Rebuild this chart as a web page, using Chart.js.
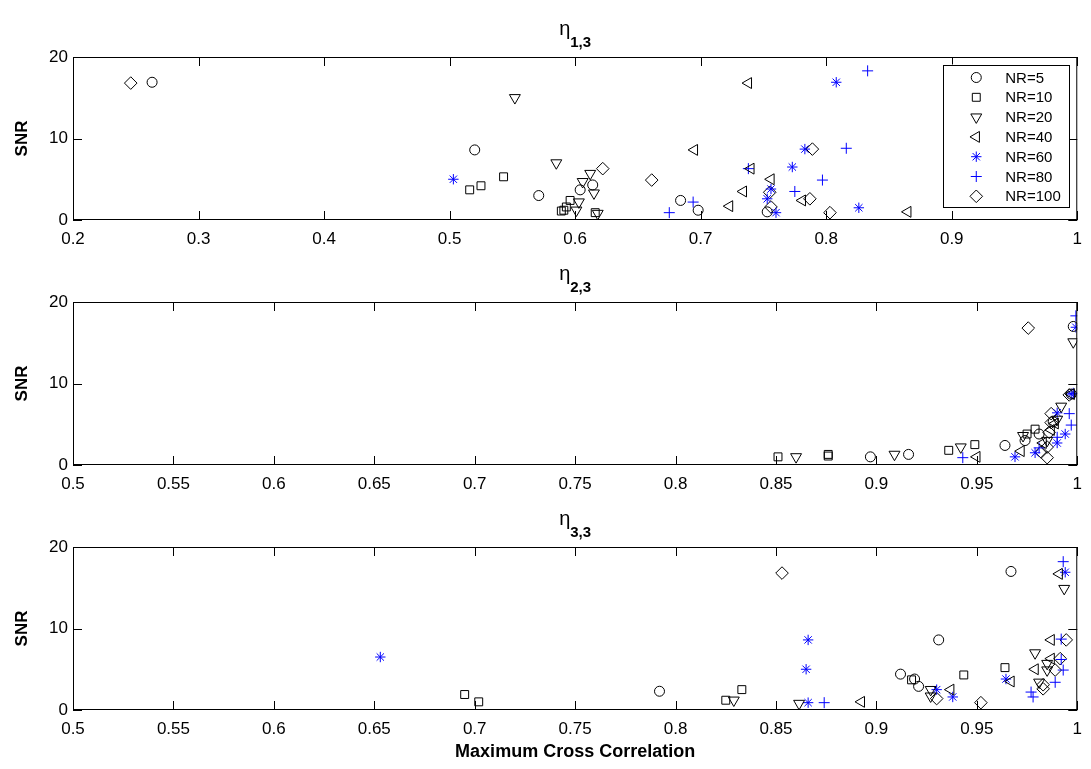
<!DOCTYPE html>
<html>
<head>
<meta charset="utf-8">
<script src="https://cdn.jsdelivr.net/npm/chart.js@4.4.1/dist/chart.umd.min.js"></script>
<style>
  body { margin: 0; background: #fff; }
  .panel { position: absolute; left: 0; width: 1091px; }
</style>
</head>
<body>
<div class="panel" style="top:0px;height:255px"><canvas id="c1" width="1091" height="255"></canvas></div>
<div class="panel" style="top:255px;height:245px"><canvas id="c2" width="1091" height="245"></canvas></div>
<div class="panel" style="top:500px;height:269px"><canvas id="c3" width="1091" height="269"></canvas></div>
<script>
// series names and marker look (MATLAB style)
const seriesLabels = ['NR=5', 'NR=10', 'NR=20', 'NR=40', 'NR=60', 'NR=80', 'NR=100'];
const markerStyles = ['circle', 'rect', 'triangle', 'triangle', 'star', 'cross', 'rectRot'];
const markerRotations = [0, 0, 180, -90, 0, 0, 0];
const markerSizes = [5, 5.6, 6.3, 6.3, 5.2, 5.5, 6.3];
const markerColors = ['#000', '#000', '#000', '#000', '#0000ff', '#0000ff', '#000'];

// eta 1,3 : [max cross correlation, SNR]
const eta13NR5   = [[0.263,16.9],[0.520,8.6],[0.604,3.7],[0.614,4.3],[0.571,3.0],[0.684,2.4],[0.698,1.2],[0.753,1.0]];
const eta13NR10  = [[0.543,5.3],[0.525,4.2],[0.516,3.7],[0.596,2.4],[0.593,1.6],[0.591,1.2],[0.589,1.1],[0.616,0.9]];
const eta13NR20  = [[0.552,15.0],[0.585,7.0],[0.612,5.7],[0.606,4.7],[0.615,3.3],[0.603,2.2],[0.601,1.2],[0.618,0.8]];
const eta13NR40  = [[0.738,16.8],[0.695,8.6],[0.740,6.3],[0.756,5.0],[0.734,3.5],[0.781,2.4],[0.723,1.7],[0.865,1.0]];
const eta13NR60  = [[0.808,16.9],[0.783,8.7],[0.773,6.5],[0.503,5.0],[0.756,3.8],[0.753,2.6],[0.826,1.5],[0.760,0.9]];
const eta13NR80  = [[0.833,18.3],[0.816,8.8],[0.738,6.3],[0.797,4.9],[0.775,3.5],[0.694,2.2],[0.675,0.9]];
const eta13NR100 = [[0.246,16.8],[0.789,8.7],[0.622,6.3],[0.661,4.9],[0.755,3.4],[0.787,2.6],[0.756,1.6],[0.803,0.9]];

// eta 2,3
const eta23NR5   = [[0.998,17.0],[0.997,8.7],[0.988,5.3],[0.981,3.8],[0.974,3.0],[0.964,2.4],[0.916,1.3],[0.897,1.0]];
const eta23NR10  = [[0.979,4.4],[0.975,3.8],[0.949,2.5],[0.936,1.8],[0.876,1.3],[0.876,1.1],[0.851,1.0]];
const eta23NR20  = [[0.998,15.1],[0.992,7.2],[0.990,5.6],[0.985,3.0],[0.973,3.6],[0.942,2.2],[0.909,1.3],[0.860,1.0]];
const eta23NR40  = [[0.997,8.7],[0.989,5.1],[0.987,4.3],[0.983,2.7],[0.972,1.7],[0.950,1.0]];
const eta23NR60  = [[0.9993,16.9],[0.997,8.7],[0.990,6.4],[0.994,3.8],[0.990,2.7],[0.979,1.5],[0.969,1.0]];
const eta23NR80  = [[0.9993,18.3],[0.998,8.8],[0.996,6.3],[0.997,4.9],[0.990,3.4],[0.981,2.1],[0.943,0.9]];
const eta23NR100 = [[0.9756,16.8],[0.996,8.6],[0.987,6.3],[0.987,5.2],[0.986,4.0],[0.985,2.2],[0.982,1.6],[0.985,0.9]];

// eta 3,3
const eta33NR5   = [[0.967,17.0],[0.931,8.6],[0.912,4.4],[0.919,3.8],[0.921,2.9],[0.792,2.3]];
const eta33NR10  = [[0.964,5.2],[0.9435,4.3],[0.9175,3.7],[0.833,2.5],[0.695,1.9],[0.825,1.2],[0.702,1.0]];
const eta33NR20  = [[0.9935,14.9],[0.979,7.0],[0.985,5.7],[0.985,4.9],[0.981,3.4],[0.927,2.5],[0.927,1.7],[0.829,1.2],[0.8615,0.8]];
const eta33NR40  = [[0.991,16.7],[0.987,8.6],[0.987,6.3],[0.979,5.0],[0.967,3.5],[0.937,2.5],[0.8925,1.0]];
const eta33NR60  = [[0.994,16.9],[0.866,8.6],[0.653,6.5],[0.865,5.0],[0.9645,3.8],[0.930,2.5],[0.938,1.6],[0.866,0.9]];
const eta33NR80  = [[0.993,18.2],[0.992,8.7],[0.992,6.2],[0.993,4.9],[0.989,3.4],[0.977,2.2],[0.978,1.6],[0.874,0.9]];
const eta33NR100 = [[0.853,16.8],[0.9945,8.6],[0.9915,6.3],[0.989,4.9],[0.983,3.1],[0.983,2.6],[0.930,1.4],[0.952,0.9]];

const FONT = '"Liberation Sans", Arial, sans-serif';

function makeDatasets(panel) {
    return panel.map((pts, i) => ({
        label: seriesLabels[i],
        data: pts.map(p => ({ x: p[0], y: p[1] })),
        showLine: false,
        pointStyle: markerStyles[i],
        pointRotation: markerRotations[i],
        pointRadius: markerSizes[i],
        pointBorderWidth: 1,
        pointBorderColor: markerColors[i],
        pointBackgroundColor: 'rgba(0,0,0,0)'
    }));
}

// box, inward ticks, eta title and legend box like the MATLAB figure
const framePlugin = {
    id: 'frame',
    afterDraw(chart, args, opts) {
        const { ctx, chartArea: a, scales } = chart;
        ctx.save();
        ctx.strokeStyle = '#000';
        ctx.lineWidth = 1;
        ctx.strokeRect(a.left + 0.5, a.top + 0.5, a.width - 1, a.height - 1);
        const tl = 9;
        ctx.beginPath();
        scales.x.ticks.forEach(t => {
            const px = Math.round(scales.x.getPixelForValue(t.value)) + 0.5;
            ctx.moveTo(px, a.bottom); ctx.lineTo(px, a.bottom - tl);
            ctx.moveTo(px, a.top); ctx.lineTo(px, a.top + tl);
        });
        scales.y.ticks.forEach(t => {
            const py = Math.round(scales.y.getPixelForValue(t.value)) + 0.5;
            ctx.moveTo(a.left, py); ctx.lineTo(a.left + tl, py);
            ctx.moveTo(a.right, py); ctx.lineTo(a.right - tl, py);
        });
        ctx.stroke();

        // title: eta with bold subscript
        const cx = (a.left + a.right) / 2;
        ctx.fillStyle = '#000';
        ctx.textBaseline = 'alphabetic';
        ctx.textAlign = 'left';
        ctx.font = '20px ' + FONT;
        const w1 = ctx.measureText(opts.title[0]).width;
        ctx.font = 'bold 15px ' + FONT;
        const w2 = ctx.measureText(opts.title[1]).width;
        const x0 = cx - (w1 + w2) / 2;
        ctx.font = '20px ' + FONT;
        ctx.fillText(opts.title[0], x0, a.top - 22);
        ctx.font = 'bold 15px ' + FONT;
        ctx.fillText(opts.title[1], x0 + w1, a.top - 10);

        if (opts.legend) {
            const bw = 126, bh = 142;
            const bx = a.right - 8 - bw, by = a.top + 7.5;
            ctx.fillStyle = '#fff';
            ctx.fillRect(bx, by, bw, bh);
            ctx.strokeRect(Math.round(bx) + 0.5, Math.round(by) + 0.5, bw, bh);
            ctx.font = '15px ' + FONT;
            ctx.textBaseline = 'middle';
            seriesLabels.forEach((lab, i) => {
                const ry = by + 13 + i * 19.8;
                ctx.strokeStyle = markerColors[i];
                ctx.fillStyle = 'rgba(0,0,0,0)';
                Chart.helpers.drawPoint(ctx, {
                    pointStyle: markerStyles[i],
                    rotation: markerRotations[i],
                    radius: markerSizes[i],
                    borderWidth: 1
                }, bx + 33, ry);
                ctx.fillStyle = '#000';
                ctx.fillText(lab, bx + 62, ry + 1);
            });
        }
        ctx.restore();
    }
};

function makeChart(id, panel, opt) {
    const tickFont = { family: FONT, size: 17 };
    return new Chart(document.getElementById(id), {
        type: 'scatter',
        data: { datasets: makeDatasets(panel) },
        options: {
            responsive: false,
            animation: false,
            events: [],
            layout: { padding: { top: opt.top, right: 6, left: 0, bottom: 0 } },
            plugins: {
                legend: { display: false },
                tooltip: { enabled: false },
                frame: { title: opt.title, legend: opt.legend }
            },
            scales: {
                x: {
                    type: 'linear',
                    min: opt.xmin, max: 1,
                    ticks: {
                        stepSize: opt.step,
                        autoSkip: false,
                        maxRotation: 0,
                        padding: 9,
                        color: '#000',
                        font: tickFont,
                        callback: v => String(+v.toFixed(2))
                    },
                    grid: { display: false, drawTicks: false },
                    border: { display: false },
                    title: {
                        display: !!opt.xTitle,
                        text: opt.xTitle || '',
                        color: '#000',
                        font: { family: FONT, size: 18, weight: 'bold' },
                        padding: { top: 0, bottom: 6 }
                    },
                    afterFit: s => { s.height = opt.xh; }
                },
                y: {
                    min: 0, max: 20,
                    ticks: { stepSize: 10, padding: 5, color: '#000', font: tickFont },
                    grid: { display: false, drawTicks: false },
                    border: { display: false },
                    title: {
                        display: true,
                        text: 'SNR',
                        color: '#000',
                        font: { family: FONT, size: 17, weight: 'bold' },
                        padding: { top: 12, bottom: 0 }
                    },
                    afterFit: s => { s.width = 73; }
                }
            }
        },
        plugins: [framePlugin]
    });
}

makeChart('c1', [eta13NR5, eta13NR10, eta13NR20, eta13NR40, eta13NR60, eta13NR80, eta13NR100],
    { top: 57, xh: 35, xmin: 0.2, step: 0.1, title: ['η', '1,3'], legend: true });
makeChart('c2', [eta23NR5, eta23NR10, eta23NR20, eta23NR40, eta23NR60, eta23NR80, eta23NR100],
    { top: 47, xh: 35, xmin: 0.5, step: 0.05, title: ['η', '2,3'], legend: false });
makeChart('c3', [eta33NR5, eta33NR10, eta33NR20, eta33NR40, eta33NR60, eta33NR80, eta33NR100],
    { top: 47, xh: 59, xmin: 0.5, step: 0.05, title: ['η', '3,3'], legend: false,
      xTitle: 'Maximum Cross Correlation' });
</script>
</body>
</html>
